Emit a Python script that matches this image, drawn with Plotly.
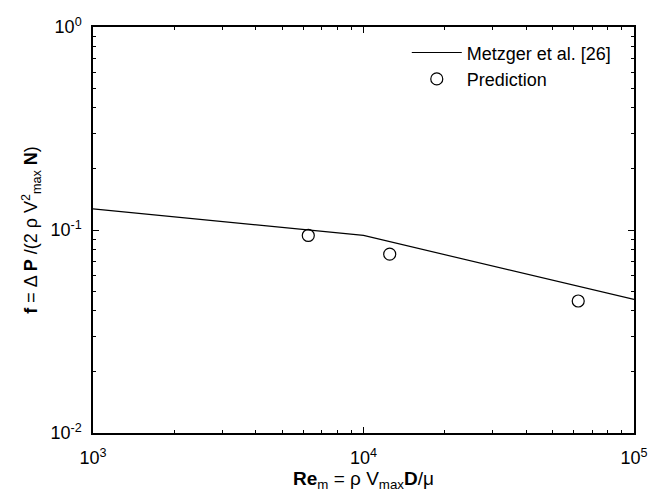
import plotly.graph_objects as go

# Metzger et al. correlation
metzger_re = [1e3, 1e4, 1e5]
metzger_f = [0.127, 0.094, 0.0455]

# Prediction points
pred_re = [6250, 12500, 62200]
pred_f = [0.094, 0.076, 0.0447]

x_ticks = [1e3, 1e4, 1e5]
x_ticktext = ["10<sup>3</sup>", "10<sup>4</sup>", "10<sup>5</sup>"]
y_ticks = [1e-2, 1e-1, 1e0]
y_ticktext = ["10<sup>-2</sup>", "10<sup>-1</sup>", "10<sup>0</sup>"]

x_minor = [m * 10 ** e for e in (3, 4) for m in range(2, 10)]
y_minor = [m * 10.0 ** e for e in (-2, -1) for m in range(2, 10)]

font = "Liberation Sans, Arial, sans-serif"

fig = go.Figure()
fig.add_trace(go.Scatter(
    x=metzger_re, y=metzger_f, mode="lines", name="Metzger et al. [26]",
    line=dict(color="black", width=1.2),
))
fig.add_trace(go.Scatter(
    x=pred_re, y=pred_f, mode="markers", name="Prediction",
    marker=dict(symbol="circle-open", size=12, color="black", line=dict(width=1.2)),
))

axis_common = dict(
    type="log", showline=True, linecolor="black", linewidth=1.5, mirror="ticks",
    ticks="inside", ticklen=6, tickcolor="black", tickwidth=1,
    showgrid=False, zeroline=False, tickmode="array",
    tickfont=dict(family=font, size=18, color="black"),
)

fig.update_xaxes(
    **axis_common, range=[3, 5], tickvals=x_ticks, ticktext=x_ticktext,
    ticklabelstandoff=8,
    minor=dict(tickvals=x_minor, ticks="inside", ticklen=3, tickcolor="black", showgrid=False),
    title=dict(text="<b>Re</b><sub>m</sub> = ρ V<sub>max</sub><b>D</b>/μ",
               font=dict(family=font, size=19, color="black"), standoff=2),
)
fig.update_yaxes(
    **axis_common, range=[-2, 0], tickvals=y_ticks, ticktext=y_ticktext,
    ticklabelstandoff=6,
    minor=dict(tickvals=y_minor, ticks="inside", ticklen=3, tickcolor="black", showgrid=False),
    title=dict(text="<b>f</b> = Δ <b>P</b> /(2 ρ V<sup>2</sup><sub>max</sub> <b>N</b>)",
               font=dict(family=font, size=18, color="black"), standoff=8),
)

fig.update_layout(
    width=660, height=499,
    margin=dict(l=93, r=22, t=27, b=66),
    paper_bgcolor="white", plot_bgcolor="white",
    font=dict(family=font, size=18, color="black"),
    showlegend=True,
    legend=dict(
        x=0.58, y=0.982, xanchor="left", yanchor="top",
        bgcolor="rgba(0,0,0,0)", font=dict(family=font, size=18, color="black"),
        itemwidth=50, tracegroupgap=0,
    ),
)

fig.write_html("out.html")
